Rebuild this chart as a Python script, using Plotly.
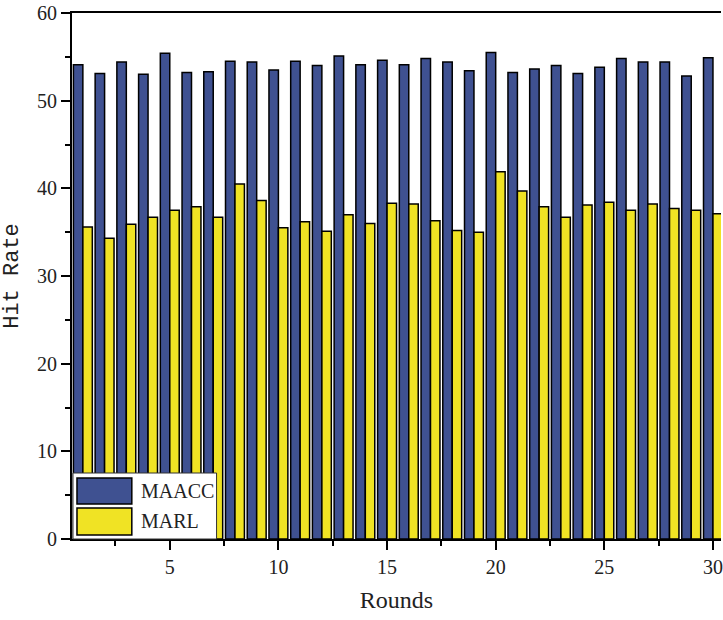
import plotly.graph_objects as go

rounds = list(range(1, 31))
maacc = [54.1, 53.1, 54.4, 53.0, 55.4, 53.2, 53.3, 54.5, 54.4, 53.5,
         54.5, 54.0, 55.1, 54.1, 54.6, 54.1, 54.8, 54.4, 53.4, 55.5,
         53.2, 53.6, 54.0, 53.1, 53.8, 54.8, 54.4, 54.4, 52.8, 54.9]
marl = [35.6, 34.3, 35.9, 36.7, 37.5, 37.9, 36.7, 40.5, 38.6, 35.5,
        36.2, 35.1, 37.0, 36.0, 38.3, 38.2, 36.3, 35.2, 35.0, 41.9,
        39.7, 37.9, 36.7, 38.1, 38.4, 37.5, 38.2, 37.7, 37.5, 37.1]
series_names = ["MAACC", "MARL"]
y_ticks = [0, 10, 20, 30, 40, 50, 60]
x_ticks = [5, 10, 15, 20, 25, 30]

BLUE = "#3F5191"
YELLOW = "#F0E324"
SERIF = "Liberation Serif, Times New Roman, DejaVu Serif, serif"

W, H = 723, 620
ML, MR, MT, MB = 72, 0, 13, 81
PW, PH = W - ML - MR, H - MT - MB


def px(x):
    return (x - ML) / PW


def py(y):
    return (H - MB - y) / PH


fig = go.Figure()
fig.add_trace(go.Bar(x=rounds, y=maacc, name=series_names[0],
                     marker=dict(color=BLUE, line=dict(color="black", width=1.5)),
                     showlegend=False))
fig.add_trace(go.Bar(x=rounds, y=marl, name=series_names[1],
                     marker=dict(color=YELLOW, line=dict(color="black", width=1.5)),
                     showlegend=False))

tickfont = dict(family=SERIF, size=20, color="#222")

fig.update_layout(
    width=W, height=H,
    margin=dict(l=ML, r=MR, t=MT, b=MB),
    plot_bgcolor="white", paper_bgcolor="white",
    barmode="group", bargap=0.13, bargroupgap=0.0,
    xaxis=dict(range=[0.5, 30.37], tickvals=x_ticks, ticktext=[str(v) for v in x_ticks],
               ticks="outside", ticklen=9, tickwidth=2, tickcolor="black",
               ticklabeloverflow="allow",
               minor=dict(dtick=2.5, tick0=0, ticks="outside", ticklen=5, tickwidth=2, tickcolor="black"),
               showline=True, linecolor="black", linewidth=2, mirror=True,
               showgrid=False, zeroline=False, tickfont=tickfont,
               title=dict(text="Rounds", font=dict(family=SERIF, size=24, color="#222"),
                          standoff=14)),
    yaxis=dict(range=[0, 60], tickvals=y_ticks, ticktext=[str(v) for v in y_ticks],
               ticks="outside", ticklen=9, tickwidth=2, tickcolor="black",
               minor=dict(dtick=5, tick0=0, ticks="outside", ticklen=5, tickwidth=2, tickcolor="black"),
               showline=True, linecolor="black", linewidth=2,
               showgrid=False, zeroline=False, tickfont=tickfont,
               title=dict(text="Hit Rate", font=dict(family="Liberation Mono, DejaVu Sans Mono, monospace",
                                                     size=22, color="#222"),
                          standoff=12)),
)

# custom legend box
shapes = [
    dict(type="rect", xref="paper", yref="paper", x0=px(73), x1=px(217), y0=py(539), y1=py(473),
         fillcolor="white", line=dict(color="#333", width=1), layer="above"),
    dict(type="rect", xref="paper", yref="paper", x0=px(77), x1=px(132), y0=py(504), y1=py(478),
         fillcolor=BLUE, line=dict(color="black", width=1.5), layer="above"),
    dict(type="rect", xref="paper", yref="paper", x0=px(77), x1=px(132), y0=py(535), y1=py(508),
         fillcolor=YELLOW, line=dict(color="black", width=1.5), layer="above"),
]
fig.update_layout(shapes=shapes)
for name, yc in zip(series_names, [491, 521]):
    fig.add_annotation(xref="paper", yref="paper", x=px(139), y=py(yc), text=name,
                       showarrow=False, xanchor="left", yanchor="middle",
                       font=dict(family=SERIF, size=20, color="#222"))

fig.write_html("out.html")
